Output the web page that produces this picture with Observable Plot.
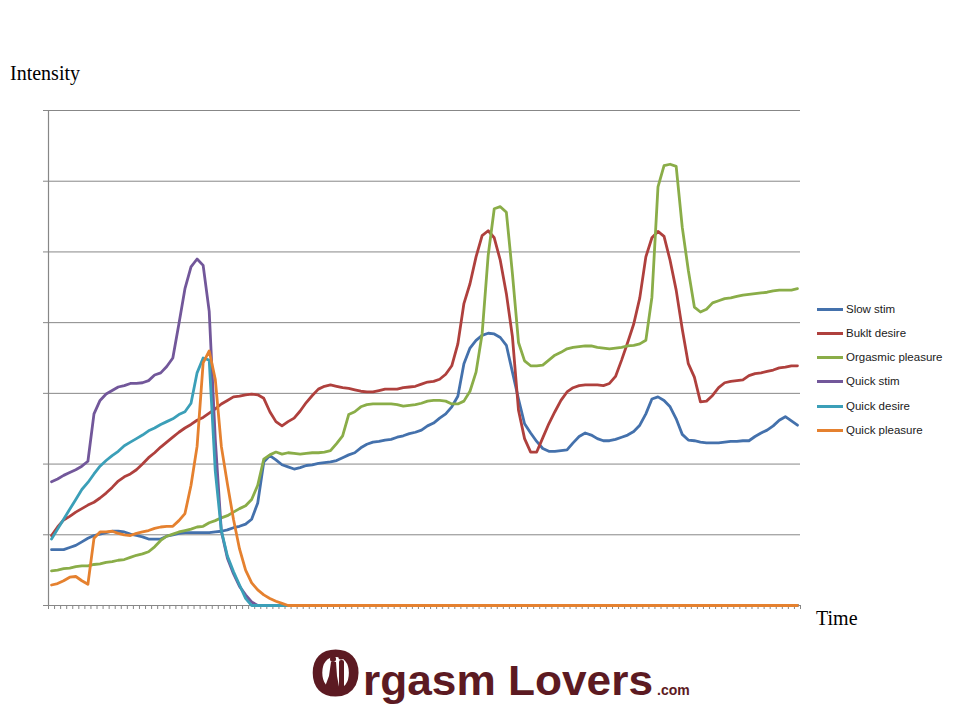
<!DOCTYPE html>
<html><head><meta charset="utf-8">
<script src="https://cdn.jsdelivr.net/npm/d3@7"></script>
<script src="https://cdn.jsdelivr.net/npm/@observablehq/plot@0.6"></script>
<style>
body{margin:0;background:#fff;}
#wrap{position:relative;width:960px;height:720px;overflow:hidden;background:#fff;}
#chart{position:absolute;left:0;top:0;}
.axlbl{position:absolute;font-family:"Liberation Serif",serif;font-size:20px;color:#000;line-height:1;white-space:nowrap;}
.leg{position:absolute;left:817px;display:flex;align-items:center;font-family:"Liberation Sans",sans-serif;font-size:11.5px;color:#1a1a1a;white-space:nowrap;height:14px;}
.leg .sw{width:26px;height:3px;margin-right:3px;}
#logo{position:absolute;left:0;top:628px;}
</style></head>
<body><div id="wrap"><div id="chart"></div></div>
<script>
// ---- data ----
const seriesNames = ["Slow stim","Buklt desire","Orgasmic pleasure","Quick stim","Quick desire","Quick pleasure"];
const seriesColors = ["#4471AC","#AF403D","#8AAD48","#72579A","#3B9FB8","#E5812F"];
const timeSteps = d3.range(124); // one category per tick interval (unlabelled)
const yTicks = [0,1,2,3,4,5,6,7];
const gridValues = [1,2,3,4,5,6,7];

const slowStim = [
0.79,0.79,0.79,0.82,0.85,0.90,0.95,0.99,1.01,1.03,
1.05,1.05,1.04,1.01,0.99,0.97,0.94,0.94,0.94,0.98,
1.00,1.02,1.03,1.03,1.03,1.03,1.03,1.04,1.05,1.07,
1.10,1.12,1.15,1.22,1.45,2.03,2.12,2.06,1.99,1.96,
1.93,1.95,1.98,1.99,2.01,2.02,2.03,2.05,2.09,2.13,
2.16,2.23,2.28,2.31,2.32,2.34,2.35,2.38,2.40,2.43,
2.45,2.48,2.54,2.58,2.65,2.71,2.81,2.96,3.42,3.64,
3.75,3.82,3.85,3.84,3.79,3.68,3.30,2.92,2.57,2.44,
2.32,2.22,2.18,2.18,2.19,2.20,2.30,2.39,2.44,2.41,
2.36,2.33,2.33,2.35,2.38,2.41,2.46,2.55,2.71,2.92,
2.95,2.90,2.81,2.64,2.42,2.34,2.33,2.31,2.30,2.30,
2.30,2.31,2.32,2.32,2.33,2.33,2.39,2.44,2.48,2.54,
2.62,2.67,2.61,2.55];

const bukltDesire = [
0.99,1.11,1.21,1.26,1.32,1.37,1.42,1.46,1.52,1.59,
1.67,1.76,1.82,1.86,1.92,2.00,2.09,2.16,2.24,2.31,
2.38,2.45,2.51,2.56,2.62,2.66,2.72,2.78,2.85,2.90,
2.95,2.96,2.98,2.99,2.98,2.93,2.74,2.60,2.54,2.60,
2.65,2.75,2.87,2.97,3.06,3.10,3.12,3.10,3.08,3.07,
3.05,3.03,3.02,3.02,3.04,3.06,3.06,3.06,3.08,3.09,
3.10,3.13,3.16,3.17,3.20,3.27,3.39,3.70,4.27,4.55,
4.93,5.23,5.30,5.20,4.88,4.41,3.80,2.76,2.36,2.17,
2.17,2.37,2.57,2.74,2.90,3.02,3.08,3.11,3.12,3.12,
3.12,3.11,3.14,3.24,3.47,3.72,3.98,4.35,4.93,5.20,
5.29,5.22,4.88,4.46,3.91,3.42,3.23,2.88,2.89,2.97,
3.08,3.15,3.17,3.18,3.19,3.25,3.28,3.29,3.31,3.33,
3.36,3.37,3.39,3.39];

const orgasmicPleasure = [
0.49,0.50,0.52,0.53,0.55,0.56,0.56,0.58,0.59,0.61,
0.62,0.64,0.65,0.68,0.71,0.73,0.76,0.83,0.92,0.98,
1.01,1.04,1.06,1.08,1.11,1.12,1.17,1.20,1.24,1.27,
1.32,1.37,1.41,1.50,1.70,2.07,2.13,2.17,2.14,2.16,
2.15,2.14,2.15,2.16,2.16,2.17,2.19,2.29,2.40,2.70,
2.74,2.81,2.84,2.85,2.85,2.85,2.85,2.84,2.82,2.83,
2.84,2.86,2.89,2.90,2.90,2.89,2.85,2.85,2.89,3.03,
3.30,3.84,4.95,5.61,5.64,5.56,4.69,3.72,3.46,3.39,
3.39,3.40,3.47,3.54,3.58,3.63,3.65,3.66,3.67,3.67,
3.65,3.64,3.63,3.64,3.65,3.67,3.68,3.70,3.75,4.36,
5.92,6.22,6.24,6.21,5.35,4.74,4.22,4.15,4.19,4.28,
4.31,4.34,4.35,4.37,4.39,4.40,4.41,4.42,4.43,4.45,
4.46,4.46,4.46,4.48];

const quickStim = [
1.75,1.79,1.84,1.88,1.92,1.97,2.04,2.71,2.90,2.99,
3.04,3.09,3.11,3.14,3.14,3.15,3.18,3.26,3.29,3.38,
3.50,3.98,4.48,4.79,4.90,4.81,4.16,2.35,1.05,0.67,
0.45,0.27,0.15,0.05,
0,0,0,0,0,0,0,0,0,0,
0,0,0,0,0,0,0,0,0,0,
0,0,0,0,0,0,0,0,0,0,
0,0,0,0,0,0,0,0,0,0,
0,0,0,0,0,0,0,0,0,0,
0,0,0,0,0,0,0,0,0,0,
0,0,0,0,0,0,0,0,0,0,
0,0,0,0,0,0,0,0,0,0,
0,0,0,0,0,0,0,0,0,0];

const quickDesire = [
0.94,1.08,1.22,1.36,1.50,1.64,1.74,1.86,1.97,2.05,
2.12,2.18,2.26,2.31,2.36,2.41,2.47,2.51,2.56,2.60,
2.64,2.70,2.74,2.86,3.29,3.50,3.47,1.90,1.06,0.70,
0.48,0.29,0.10,
0,0,0,0,0,0,0,0,0,0,
0,0,0,0,0,0,0,0,0,0,
0,0,0,0,0,0,0,0,0,0,
0,0,0,0,0,0,0,0,0,0,
0,0,0,0,0,0,0,0,0,0,
0,0,0,0,0,0,0,0,0,0,
0,0,0,0,0,0,0,0,0,0,
0,0,0,0,0,0,0,0,0,0,
0,0,0,0,0,0,0,0,0,0,
0];

const quickPleasure = [
0.29,0.31,0.35,0.40,0.41,0.35,0.30,0.95,1.04,1.04,
1.05,1.02,1.00,0.99,1.02,1.04,1.06,1.09,1.11,1.12,
1.12,1.20,1.30,1.70,2.25,3.43,3.60,3.20,2.25,1.72,
1.22,0.80,0.50,0.32,0.22,0.15,0.10,0.06,0.03,
0,0,0,0,0,0,0,0,0,0,
0,0,0,0,0,0,0,0,0,0,
0,0,0,0,0,0,0,0,0,0,
0,0,0,0,0,0,0,0,0,0,
0,0,0,0,0,0,0,0,0,0,
0,0,0,0,0,0,0,0,0,0,
0,0,0,0,0,0,0,0,0,0,
0,0,0,0,0,0,0,0,0,0,
0,0,0,0,0];

const seriesValues = [slowStim,bukltDesire,orgasmicPleasure,quickStim,quickDesire,quickPleasure];

// ---- build ----
const rows = seriesNames.flatMap((name, k) =>
  seriesValues[k].map((v, i) => ({series: name, t: timeSteps[i] + 0.5, v})));
const xTicks = d3.range(timeSteps.length + 1);

const plot = Plot.plot({
  width: 960, height: 650,
  marginLeft: 48, marginRight: 160, marginTop: 110, marginBottom: 45,
  x: {domain: [0, timeSteps.length], axis: null},
  y: {domain: [0, 7], axis: null},
  color: {domain: seriesNames, range: seriesColors},
  style: {background: "transparent", overflow: "visible"},
  marks: [
    Plot.ruleY(gridValues, {stroke: "#878787", strokeWidth: 1, strokeOpacity: 1}),
    Plot.axisY(yTicks, {tickSize: 5, tickFormat: () => "", label: null, stroke: "#878787", strokeOpacity: 1}),
    Plot.axisX(xTicks, {tickSize: 4, tickFormat: () => "", label: null, stroke: "#878787", strokeOpacity: 1}),
    Plot.ruleX([0], {y1: 0, y2: 7, stroke: "#878787", strokeWidth: 1.2}),
    Plot.ruleY([0], {stroke: "#878787", strokeWidth: 1.2}),
    Plot.line(rows, {x: "t", y: "v", z: "series", stroke: "series", strokeWidth: 2.8, strokeLinejoin: "round", strokeLinecap: "round"})
  ]
});
const wrap = document.getElementById("wrap");
document.getElementById("chart").appendChild(plot);

// axis titles
function addLabel(text, left, top) {
  const d = document.createElement("div");
  d.className = "axlbl"; d.textContent = text;
  d.style.left = left + "px"; d.style.top = top + "px";
  wrap.appendChild(d);
}
addLabel("Intensity", 10, 63);
addLabel("Time", 816, 608);

// legend
const legendTops = [302, 326, 350, 374, 399, 423];
seriesNames.forEach((name, k) => {
  const row = document.createElement("div");
  row.className = "leg";
  row.style.top = legendTops[k] + "px";
  const sw = document.createElement("span");
  sw.className = "sw"; sw.style.background = seriesColors[k];
  const tx = document.createElement("span");
  tx.textContent = name;
  row.appendChild(sw); row.appendChild(tx);
  wrap.appendChild(row);
});

// logo (svg top at page y 628)
const ns = "http://www.w3.org/2000/svg";
const logo = document.createElementNS(ns, "svg");
logo.setAttribute("id", "logo");
logo.setAttribute("width", "960"); logo.setAttribute("height", "92");
logo.innerHTML = `
  <g fill="#5c1a22">
    <circle cx="333" cy="31" r="3"/>
    <path d="M331 34 L336 34 L337 48 L340 64 L323 64 L329 48 Z"/>
    <circle cx="341" cy="29" r="2.6"/>
    <rect x="339" y="32" width="5" height="32" rx="2"/>
    <text x="310" y="68" font-family="Liberation Sans, Arial, sans-serif" font-weight="bold" font-size="66">O</text>
    <text x="363" y="67" font-family="Liberation Sans, Arial, sans-serif" font-weight="bold" font-size="43" textLength="290" lengthAdjust="spacingAndGlyphs">rgasm Lovers</text>
    <text x="657" y="67" font-family="Liberation Sans, Arial, sans-serif" font-weight="bold" font-size="14">.com</text>
  </g>`;
wrap.appendChild(logo);
</script>
</body></html>
